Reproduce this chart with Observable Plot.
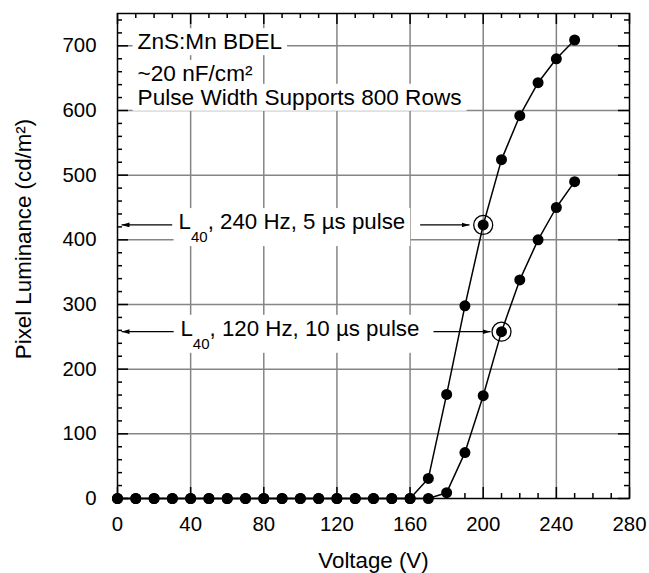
<!DOCTYPE html>
<html><head><meta charset="utf-8">
<script src="https://cdn.jsdelivr.net/npm/d3@7"></script>
<script src="https://cdn.jsdelivr.net/npm/@observablehq/plot@0.6"></script>
<style>body{margin:0;background:#fff} svg{display:block}</style>
</head><body><div id="chart"></div>
<script>
// ---- data ----
const voltage = [0,10,20,30,40,50,60,70,80,90,100,110,120,130,140,150,160,170,180,190,200,210,220,230,240,250];
const lum240Hz = [0,0,0,0,0,0,0,0,0,0,0,0,0,0,0,0,0,31,161,298,423,524,592,643,680,709];
const lum120Hz = [0,0,0,0,0,0,0,0,0,0,0,0,0,0,0,0,0,0,9,71,159,258,338,400,450,490];
const circledVoltage = [200, 210];
const xTicks = [0,40,80,120,160,200,240,280];
const yTicks = [0,100,200,300,400,500,600,700];
const xLabel = "Voltage (V)";
const yLabel = "Pixel Luminance (cd/m²)";
const infoLines = [
  {x: 11, y: 706, text: "ZnS:Mn BDEL"},
  {x: 11, y: 657, text: "~20 nF/cm²"},
  {x: 11, y: 620, text: "Pulse Width Supports 800 Rows"}
];
const pulseLabels = [
  {x: 33.4, y: 423, main: "L", sub: "40", rest: ", 240 Hz, 5 µs pulse"},
  {x: 34.4, y: 258, main: "L", sub: "40", rest: ", 120 Hz, 10 µs pulse"}
];
const arrows = [
  {x1: 29.9, x2: 2.2, y: 423},
  {x1: 165.5, x2: 192.5, y: 423},
  {x1: 30.7, x2: 2.2, y: 258},
  {x1: 172.8, x2: 204, y: 258}
];

// ---- derived tables ----
const s240 = voltage.map((v, i) => ({v, L: lum240Hz[i]}));
const s120 = voltage.map((v, i) => ({v, L: lum120Hz[i]}));
const circled = [
  {v: circledVoltage[0], L: lum240Hz[voltage.indexOf(circledVoltage[0])]},
  {v: circledVoltage[1], L: lum120Hz[voltage.indexOf(circledVoltage[1])]}
];
const xGrid = xTicks.slice(1, -1);
const yGrid = yTicks.slice(1);
const xMinor = d3.range(10, 280, 10).filter(d => d % 40 !== 0);
const yMinor = d3.range(20, 750, 20).filter(d => d % 100 !== 0);

const W = 649, H = 573, mT = 13, mB = 75, mL = 117, mR = 20;
const innerH = H - mT - mB, innerW = W - mL - mR;
const font = "'Liberation Sans', Arial, Helvetica, sans-serif";
const tickStyle = {stroke: "black", strokeWidth: 1.5};

const chart = Plot.plot({
  width: W, height: H,
  marginTop: mT, marginBottom: mB, marginLeft: mL, marginRight: mR,
  style: {fontFamily: font, fontSize: "20px", background: "white", color: "black"},
  x: {domain: [0, 280]},
  y: {domain: [0, 750]},
  marks: [
    Plot.ruleX(xGrid, {stroke: "#858585", strokeWidth: 1.5}),
    Plot.ruleY(yGrid, {stroke: "#858585", strokeWidth: 1.5}),
    Plot.text(infoLines, {x: "x", y: "y", text: "text", textAnchor: "start", fontSize: 22.6, fill: "black"}),
    Plot.text(pulseLabels, {x: "x", y: "y", text: d => d.main + d.sub + d.rest, textAnchor: "start",
      fontSize: 22.3, dy: -3, fill: "black"}),
    Plot.link(arrows, {x1: "x1", x2: "x2", y1: "y", y2: "y", stroke: "black", strokeWidth: 1.3}),
    Plot.line(s240, {x: "v", y: "L", stroke: "black", strokeWidth: 1.5}),
    Plot.line(s120, {x: "v", y: "L", stroke: "black", strokeWidth: 1.5}),
    Plot.dot(s240, {x: "v", y: "L", r: 5.5, fill: "black"}),
    Plot.dot(s120, {x: "v", y: "L", r: 5.5, fill: "black"}),
    Plot.dot(circled, {x: "v", y: "L", r: 9.5, fill: "none", stroke: "black", strokeWidth: 1.3}),
    // inward ticks
    Plot.ruleX(xTicks, {...tickStyle, insetTop: innerH - 11}),
    Plot.ruleX(xTicks, {...tickStyle, insetBottom: innerH - 11}),
    Plot.ruleX(xMinor, {...tickStyle, insetTop: innerH - 5}),
    Plot.ruleX(xMinor, {...tickStyle, insetBottom: innerH - 5}),
    Plot.ruleY(yTicks, {...tickStyle, insetRight: innerW - 11}),
    Plot.ruleY(yTicks, {...tickStyle, insetLeft: innerW - 11}),
    Plot.ruleY(yMinor, {...tickStyle, insetRight: innerW - 5}),
    Plot.ruleY(yMinor, {...tickStyle, insetLeft: innerW - 5}),
    Plot.frame({stroke: "black", strokeWidth: 1.5}),
    Plot.axisX({ticks: xTicks, tickSize: 0, tickPadding: 18, fontSize: 20.4, label: null}),
    Plot.axisY({ticks: yTicks, tickSize: 0, tickPadding: 21, fontSize: 20.4, label: null}),
    Plot.text([xLabel], {frameAnchor: "bottom", textAnchor: "middle", lineAnchor: "middle", dy: 62, fontSize: 22.3}),
    Plot.text([yLabel], {frameAnchor: "left", textAnchor: "middle", lineAnchor: "middle", dx: -94, dy: -17, rotate: -90, fontSize: 22.3})
  ]
});

const svg = d3.select(chart);
// subscripts for L40 labels
svg.selectAll("text").each(function() {
  const t = this.textContent;
  const lab = pulseLabels.find(d => d.main + d.sub + d.rest === t);
  if (!lab) return;
  const el = d3.select(this);
  el.text(null);
  el.append("tspan").text(lab.main);
  el.append("tspan").attr("dy", 13).attr("font-size", 15).text(lab.sub);
  el.append("tspan").attr("dy", -13).text(lab.rest);
});
// filled arrowheads
const defs = svg.insert("defs", ":first-child");
defs.append("marker").attr("id", "ah").attr("viewBox", "0 0 10 6")
  .attr("refX", 10).attr("refY", 3).attr("markerWidth", 8).attr("markerHeight", 5)
  .attr("markerUnits", "userSpaceOnUse").attr("orient", "auto")
  .append("path").attr("d", "M0,0L10,3L0,6Z").attr("fill", "black");
svg.selectAll('g[aria-label="link"] path').attr("marker-end", "url(#ah)");

document.getElementById("chart").appendChild(chart);

// white boxes behind annotation texts (interrupting the grid, as in the original)
const annStrings = infoLines.map(d => d.text).concat(pulseLabels.map(d => d.main + d.sub + d.rest));
svg.selectAll("text").each(function() {
  if (!annStrings.includes(this.textContent)) return;
  const b = this.getBBox();
  const padX = 5, padY = 1;
  const r = document.createElementNS("http://www.w3.org/2000/svg", "rect");
  r.setAttribute("x", b.x - padX);
  r.setAttribute("y", b.y - padY);
  r.setAttribute("width", b.width + 2 * padX);
  r.setAttribute("height", b.height + 2 * padY);
  r.setAttribute("fill", "white");
  r.setAttribute("stroke", "none");
  const tr = this.getAttribute("transform");
  if (tr) r.setAttribute("transform", tr);
  this.parentNode.insertBefore(r, this);
});
</script>
</body></html>
